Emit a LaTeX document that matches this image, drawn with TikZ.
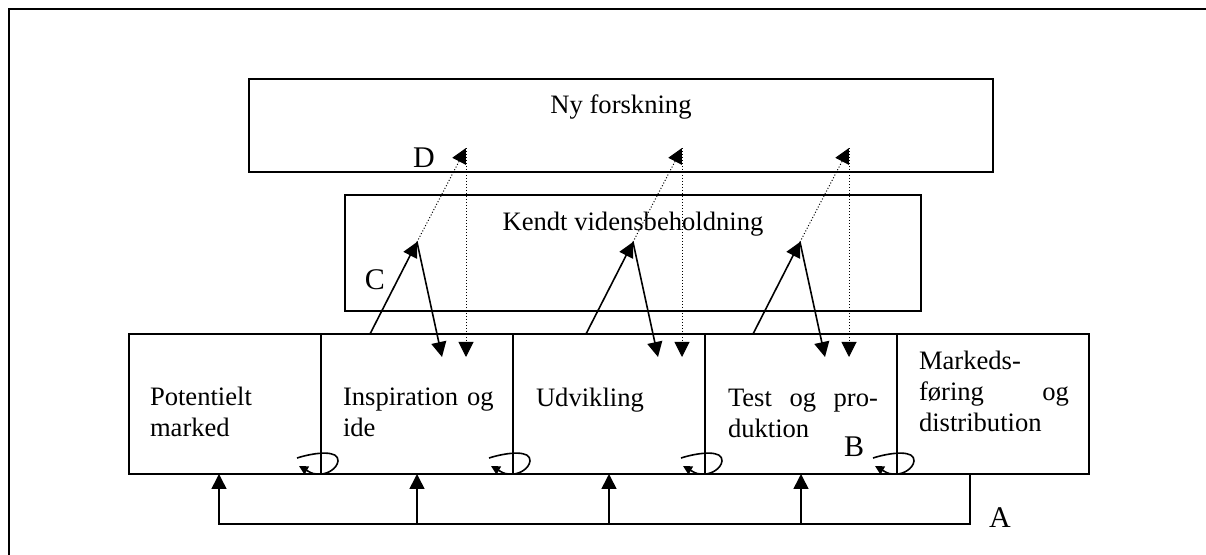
\documentclass[tikz,border=0pt]{standalone}
\usepackage{fontspec}
\setmainfont{Liberation Serif}
\usetikzlibrary{arrows.meta}

\tikzset{
  tekst/.style={anchor=base west,inner sep=0pt,text width=75pt,align=left,font=\fontsize{13.3}{15.4}\selectfont},
  titel/.style={anchor=base,inner sep=0pt,font=\fontsize{13.3}{15.4}\selectfont},
  bogstav/.style={anchor=base,inner sep=0pt,font=\fontsize{15}{18}\selectfont},
  pil/.style={-{Triangle[length=7.5pt,width=7.5pt]},line width=0.8pt},
  prikpil/.style={-{Triangle[length=7.5pt,width=7.5pt]},line width=0.5pt,dash pattern=on 0.5pt off 1pt},
  loekke/.style={-{Triangle[length=4.5pt,width=4.5pt]},line width=0.8pt},
}

\begin{document}
\begin{tikzpicture}[x=0.5pt,y=-0.5pt,line width=1pt]
\useasboundingbox (0,0) rectangle (1206,555);
% ramme
\draw (9,560) -- (9,9) -- (1210,9);

% kasser
\draw (249,79) rectangle (993,172);
\draw (345,195) rectangle (921,311);
\draw (129,334) rectangle (1089,474);
\foreach \x in {321,513,705,897}
  \draw (\x,334) -- (\x,474);

\node[titel] (ny) at (621,114) {Ny forskning};
\node[titel] (kendt) at (633,231) {Kendt vidensbeholdning};
\node[tekst] (pot) at (149,406) {Potentielt\\marked};
\node[tekst] (insp) at (342,406) {\mbox{Inspiration og}\\ide};
\node[tekst] (udv) at (535,407) {Udvikling};
\node[tekst] (test) at (727,407) {Test\hfill og\hfill pro-\\duktion};
\node[tekst] (mark) at (918,370) {Markeds-\\føring\hfill og\\distribution};

% pile til og fra videnslagene
\foreach \s [count=\i] in {370,586,753} {
  \coordinate (s\i) at (\s,334);
  \coordinate (k\i) at (\s+47,242);
  \coordinate (t\i) at (\s+96,148);
  \coordinate (d\i) at (\s+72,357);
  \coordinate (v\i) at (\s+96,357);
  \draw[pil] (s\i) -- (k\i);
  \draw[pil] (k\i) -- (d\i);
  \draw[prikpil] (k\i) -- (t\i);
  \draw[prikpil] (t\i) -- (v\i);
}

% smaa loekker
\foreach \x in {321,513,705,897}
  \draw[loekke] (\x-24,458) .. controls (\x-5,452) and (\x+18,450) .. (\x+17,461)
    .. controls (\x+16,469) and (\x+6,474) .. (\x,474) .. controls (\x-8,474) .. (\x-22,466);

% tilbagekobling
\coordinate (a0) at (970,474);
\coordinate (a1) at (970,524);
\coordinate (a2) at (219,524);
\coordinate (m0) at (219,474);
\draw[pil] (a0) -- (a1) -- (a2) -- (m0);
\foreach \x [count=\i] in {417,609,801} {
  \coordinate (f\i) at (\x,524);
  \coordinate (m\i) at (\x,474);
  \draw[pil] (f\i) -- (m\i);
}

\node[bogstav] (A) at (1000,528) {A};
\node[bogstav] (B) at (854,457) {B};
\node[bogstav] (C) at (375,290) {C};
\node[bogstav] (D) at (424,168) {D};
\end{tikzpicture}
\end{document}
